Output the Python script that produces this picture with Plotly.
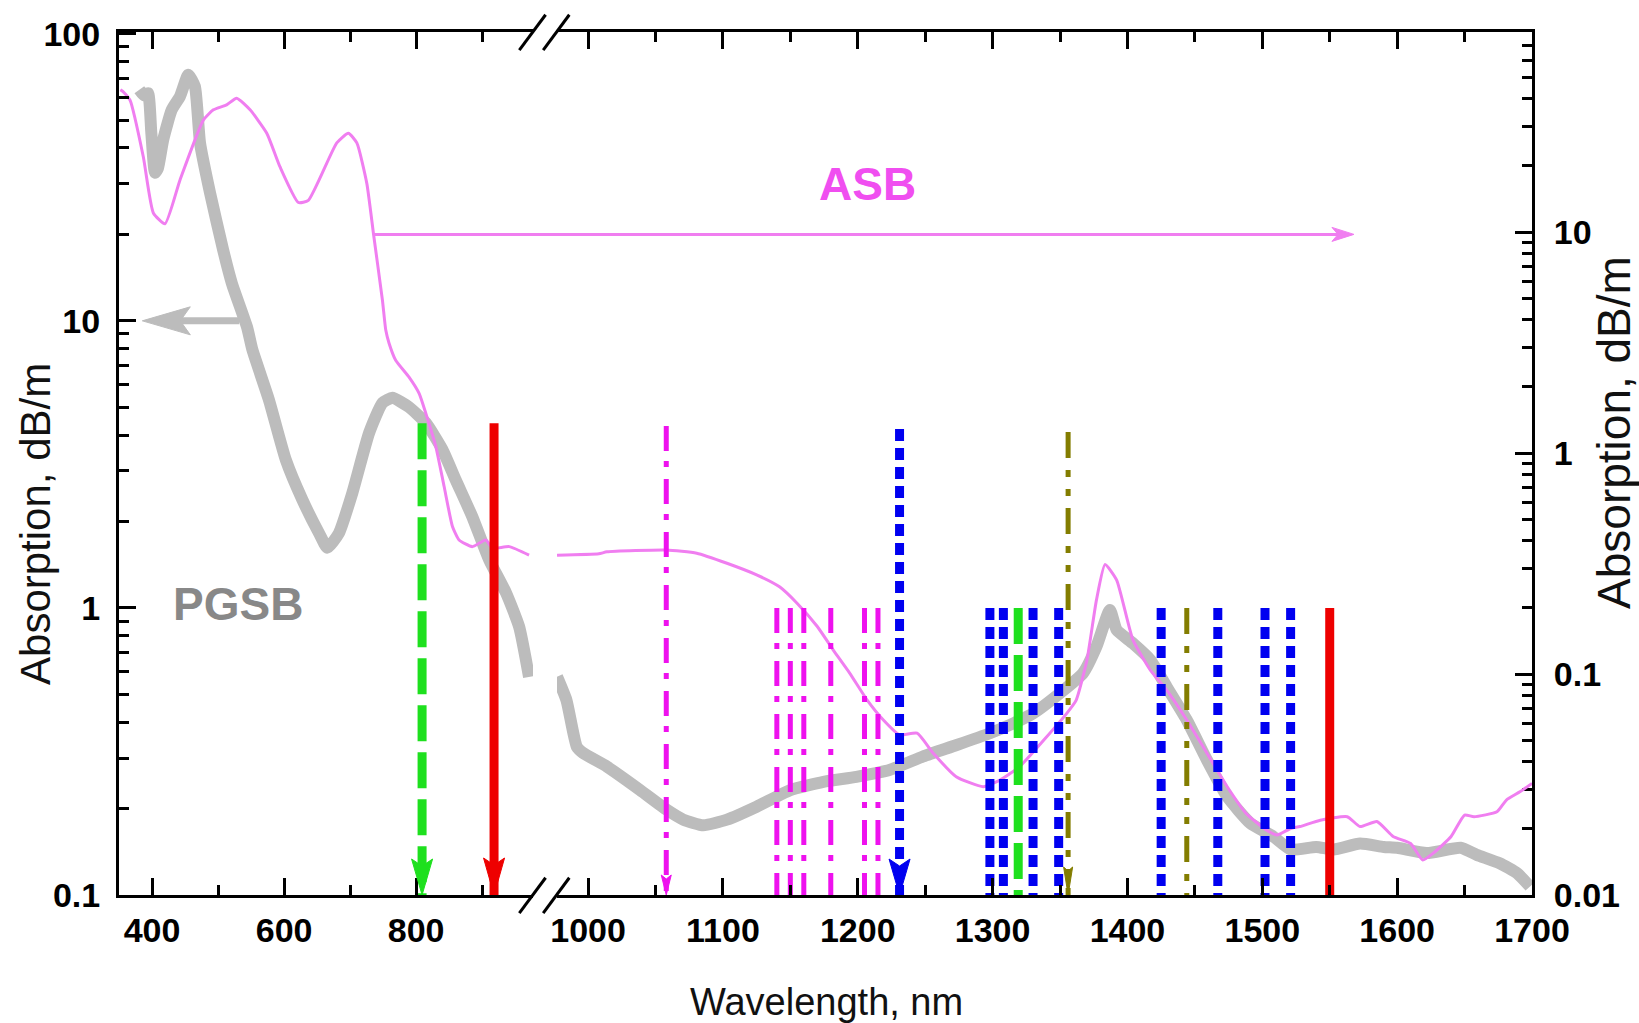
import plotly.graph_objects as go

FONT = "Liberation Sans, Arial, sans-serif"

# ---------------- data ----------------
# PGSB absorption (left axis, dB/m); x axis is broken near 977 nm
pgsb_nm_a = [380.8, 388, 394, 399, 404.5, 409, 417, 429.8, 442.4, 455, 465, 472.7, 487.9,
             507.6, 521, 544, 552, 577, 602.6, 627.7, 653, 665.6, 683, 703.5, 728.8, 749,
             764, 789, 814.7, 839.8, 860, 885, 910.6, 936, 956, 971]
pgsb_val_a = [63.8, 61, 62.1, 45, 32.8, 34, 42.8, 54.3, 60.5, 72, 65.5, 41.7, 27.9,
              17.7, 13.5, 9.5, 7.93, 5.31, 3.28, 2.38, 1.82, 1.62, 1.82, 2.52, 4.07, 5.18,
              5.39, 5.01, 4.41, 3.56, 2.79, 2.08, 1.47, 1.13, 0.86, 0.575]
pgsb_nm_b = [977, 984, 991.6, 996.5, 1014, 1038.6, 1058.4, 1070.7, 1085.5, 1103, 1125, 1150,
             1174.5, 1199, 1224, 1248.6, 1273.4, 1298, 1315.4, 1330, 1350, 1367, 1377, 1387,
             1392, 1404, 1417, 1429, 1444, 1459, 1474, 1491, 1508, 1521, 1540, 1553, 1572.5,
             1590, 1600, 1622, 1647, 1659, 1676, 1689, 1698.5]
pgsb_val_b = [0.576, 0.477, 0.329, 0.312, 0.280, 0.232, 0.198, 0.183, 0.175, 0.183, 0.203, 0.232,
              0.248, 0.258, 0.273, 0.304, 0.333, 0.366, 0.396, 0.429, 0.505, 0.592, 0.733, 0.984,
              0.838, 0.753, 0.659, 0.532, 0.407, 0.295, 0.220, 0.178, 0.160, 0.144, 0.147, 0.144, 0.151,
              0.147, 0.146, 0.140, 0.146, 0.138, 0.129, 0.119, 0.107]

# ASB absorption (right axis, dB/m)
asb_nm_a = [352, 356.5, 366.7, 386.8, 402, 419.7, 442.4, 477.7, 492.9, 513, 528.2, 548.5, 573.8,
            593.9, 621.7, 636.8, 679.8, 697.4, 710.2, 725.3, 735.3, 749, 754, 759, 769, 789,
            804.5, 814.7, 829.8, 842.4, 855, 865, 885, 905.6, 915.6, 941, 971]
asb_val_a = [44, 43.1, 39.5, 21.9, 12.2, 10.9, 17.2, 32.1, 35.7, 37.6, 40.3, 35.7, 28.0,
             19.7, 13.6, 13.9, 25.3, 28.0, 25.3, 16.6, 9.87, 4.9, 3.6, 3.14, 2.63, 2.21,
             1.86, 1.51, 1.07, 0.705, 0.465, 0.404, 0.377, 0.404, 0.371, 0.377, 0.345]
asb_nm_b = [977, 1008, 1014, 1058, 1080.6, 1103, 1125, 1142, 1155, 1170, 1182, 1194, 1207, 1219,
            1231, 1244, 1256, 1273, 1293, 1305.5, 1320, 1338, 1355, 1362, 1370, 1377, 1383.4,
            1392, 1404, 1417, 1429, 1444, 1459, 1474, 1488, 1503, 1511, 1521, 1528, 1543, 1563,
            1572.5, 1585, 1597, 1610, 1619, 1627, 1640, 1650, 1657, 1674, 1681, 1691, 1700]
asb_val_b = [0.345, 0.350, 0.357, 0.364, 0.352, 0.317, 0.281, 0.248, 0.209, 0.164, 0.128, 0.101,
             0.0762, 0.0619, 0.053, 0.054, 0.0438, 0.0343, 0.0309, 0.0331, 0.0381, 0.0503, 0.0664,
             0.0762, 0.116, 0.216, 0.313, 0.266, 0.143, 0.104, 0.0847, 0.0619, 0.0438, 0.0309,
             0.0234, 0.0197, 0.0187, 0.0200, 0.0204, 0.0218, 0.0226, 0.0204, 0.0215, 0.0184,
             0.0171, 0.0144, 0.0155, 0.0184, 0.0230, 0.0226, 0.0238, 0.0269, 0.0293, 0.0320]

# marker lines (wavelength, nm) drawn from 0.1 up to the given level (left axis)
magenta_lines_nm = [1140, 1150, 1160, 1180, 1205, 1215]
blue_lines_nm = [1298, 1308, 1330, 1349, 1425, 1467, 1502, 1521]
green_line_nm = [1319]
olive_line_nm = [1444]
red_line_nm = [1550]
line_top = 1.0

# arrows (wavelength, top level)
green_arrow = (809, 4.4)
red_arrow = (918, 4.4)
magenta_arrow = (1058, 4.3)
blue_arrow = (1231, 4.2)
olive_arrow = (1356, 4.1)

# axis ticks
x_left_ticks = [400, 600, 800]
x_left_minor = [500, 700, 900]
x_right_ticks = [1000, 1100, 1200, 1300, 1400, 1500, 1600, 1700]
x_right_minor = [1050, 1150, 1250, 1350, 1450, 1550, 1650]
y_left_ticks = [0.1, 1, 10, 100]
y_left_labels = ["0.1", "1", "10", "100"]
y_right_ticks = [0.01, 0.1, 1, 10]
y_right_labels = ["0.01", "0.1", "1", "10"]
y_left_minor = [m * d for d in (0.1, 1, 10) for m in range(2, 10)]
y_right_minor = [m * d for d in (0.01, 0.1, 1, 10) for m in range(2, 10)]

# colours
C_PGSB = "#bcbcbc"
C_ASB = "#f07ef0"
C_MAG = "#ee11ee"
C_BLUE = "#0000f0"
C_GREEN = "#1ee01e"
C_RED = "#ee0000"
C_OLIVE = "#837d00"

# ---------------- figure ----------------
fig = go.Figure()


def vl(xs, top):
    X, Y = [], []
    for x in xs:
        X += [x, x, None]
        Y += [top, 0.1, None]
    return X, Y


# curves
fig.add_trace(go.Scatter(x=pgsb_nm_a, y=pgsb_val_a, xaxis="x", yaxis="y", mode="lines",
                         line=dict(color=C_PGSB, width=12, shape="spline", smoothing=0.5)))
fig.add_trace(go.Scatter(x=pgsb_nm_b, y=pgsb_val_b, xaxis="x2", yaxis="y", mode="lines",
                         line=dict(color=C_PGSB, width=12, shape="spline", smoothing=0.5)))
fig.add_trace(go.Scatter(x=asb_nm_a, y=asb_val_a, xaxis="x", yaxis="y2", mode="lines",
                         line=dict(color=C_ASB, width=3, shape="spline", smoothing=0.5)))
fig.add_trace(go.Scatter(x=asb_nm_b, y=asb_val_b, xaxis="x2", yaxis="y2", mode="lines",
                         line=dict(color=C_ASB, width=3, shape="spline", smoothing=0.5)))

DASHDOT = "25px,10px,6px,12px"
DASHDOTDOT = "26px,12px,7px,12px,7px,12px"
DOTS = "12px,7px"
DASH = "36px,11px"

# vertical marker lines (on a hidden copy of the left axis, drawn on top)
for xs, top, col, w, dash, xa in [
    (magenta_lines_nm, line_top, C_MAG, 5, DASHDOT, "x2"),
    (blue_lines_nm, line_top, C_BLUE, 9, DOTS, "x2"),
    (green_line_nm, line_top, C_GREEN, 9, DASH, "x2"),
    (olive_line_nm, line_top, C_OLIVE, 5, DASHDOTDOT, "x2"),
    (red_line_nm, line_top, C_RED, 9, "solid", "x2"),
    ([green_arrow[0]], green_arrow[1], C_GREEN, 9, DASH, "x"),
    ([red_arrow[0]], red_arrow[1], C_RED, 9, "solid", "x"),
    ([magenta_arrow[0]], magenta_arrow[1], C_MAG, 5, DASHDOT, "x2"),
    ([blue_arrow[0]], blue_arrow[1], C_BLUE, 9, DOTS, "x2"),
    ([olive_arrow[0]], olive_arrow[1], C_OLIVE, 5, DASHDOTDOT, "x2"),
]:
    X, Y = vl(xs, top)
    fig.add_trace(go.Scatter(x=X, y=Y, xaxis=xa, yaxis="y3", mode="lines",
                             line=dict(color=col, width=w, dash=dash)))

shapes = []


def head_down(xref, x, color, w, L, notch):
    return dict(type="path", xref=xref, yref="paper", xsizemode="pixel", ysizemode="pixel",
                xanchor=x, yanchor=0,
                path=f"M0,0 L{-w/2},{L} L0,{L-notch} L{w/2},{L} Z",
                fillcolor=color, line=dict(color=color, width=1), layer="above")


shapes.append(head_down("x", green_arrow[0], C_GREEN, 21, 36, 7))
shapes.append(head_down("x", red_arrow[0], C_RED, 21, 37, 7))
shapes.append(head_down("x2", magenta_arrow[0], C_MAG, 10, 20, 4))
shapes.append(head_down("x2", blue_arrow[0], C_BLUE, 21, 36, 7))
shapes.append(head_down("x2", olive_arrow[0], C_OLIVE, 9, 28, 4))

# PGSB -> left axis arrow
pgsb_arrow_y = 10
shapes.append(dict(type="line", xref="x", yref="y", x0=405, x1=532, y0=pgsb_arrow_y, y1=pgsb_arrow_y,
                   line=dict(color=C_PGSB, width=7)))
shapes.append(dict(type="path", xref="x", yref="y", xsizemode="pixel", ysizemode="pixel",
                   xanchor=385.3, yanchor=pgsb_arrow_y, path="M0,0 L48,14 L38,0 L48,-14 Z",
                   fillcolor=C_PGSB, line=dict(color=C_PGSB, width=1)))
# ASB -> right axis arrow
asb_arrow_y = 20
shapes.append(dict(type="line", xref="paper", yref="y", x0=0.180, x1=0.864, y0=asb_arrow_y, y1=asb_arrow_y,
                   line=dict(color=C_ASB, width=3)))
shapes.append(dict(type="path", xref="paper", yref="y", xsizemode="pixel", ysizemode="pixel",
                   xanchor=0.874, yanchor=asb_arrow_y, path="M0,0 L-22,7 L-16,0 L-22,-7 Z",
                   fillcolor=C_ASB, line=dict(color=C_ASB, width=1)))

# axis-break marks
for xa, xb in [(0.2833, 0.3019), (0.3002, 0.3187)]:
    for ya, yb in [(-0.021, 0.020), (0.979, 1.020)]:
        shapes.append(dict(type="line", xref="paper", yref="paper", x0=xa, y0=ya, x1=xb, y1=yb,
                           line=dict(color="black", width=3)))

tickfont = dict(family=FONT, size=34, color="black", weight="bold")
common_x = dict(showline=True, linewidth=3, linecolor="black", mirror="ticks", ticks="inside",
                ticklen=17, tickwidth=3, tickcolor="black", showgrid=False, zeroline=False,
                tickfont=tickfont, ticklabelstandoff=3)
common_y = dict(type="log", showline=True, linewidth=3, linecolor="black", ticks="inside",
                ticklen=17, tickwidth=3, tickcolor="black", showgrid=False, zeroline=False,
                tickfont=tickfont)

fig.update_layout(
    width=1639, height=1023,
    margin=dict(l=119, r=107, t=32, b=128),
    paper_bgcolor="white", plot_bgcolor="white",
    showlegend=False,
    xaxis=dict(domain=[0, 0.2930], range=[350, 977], anchor="y", tickmode="array",
               tickvals=x_left_ticks,
               minor=dict(tickmode="array", tickvals=x_left_minor, ticks="inside", ticklen=10,
                          tickwidth=3, tickcolor="black", showgrid=False),
               **common_x),
    xaxis2=dict(domain=[0.3100, 1], range=[977, 1700], anchor="y", tickmode="array",
                tickvals=x_right_ticks,
                minor=dict(tickmode="array", tickvals=x_right_minor, ticks="inside", ticklen=10,
                           tickwidth=3, tickcolor="black", showgrid=False),
                **common_x),
    yaxis=dict(range=[-1, 2.006], anchor="x", side="left", tickmode="array",
               tickvals=y_left_ticks, ticktext=y_left_labels, ticklabelstandoff=9,
               minor=dict(tickmode="array", tickvals=y_left_minor, ticks="inside", ticklen=10,
                          tickwidth=3, tickcolor="black", showgrid=False),
               **common_y),
    yaxis2=dict(range=[-2, 1.905], anchor="x2", side="right", overlaying="y", tickmode="array",
                tickvals=y_right_ticks, ticktext=y_right_labels, ticklabelstandoff=12,
                minor=dict(tickmode="array", tickvals=y_right_minor, ticks="inside", ticklen=10,
                           tickwidth=3, tickcolor="black", showgrid=False),
                **common_y),
    yaxis3=dict(type="log", range=[-1, 2.006], anchor="x", overlaying="y", visible=False),
    shapes=shapes,
)

ann = []
ann.append(dict(text="Wavelength, nm", xref="paper", yref="paper", x=0.5004, y=-0.124,
                xanchor="center", yanchor="middle",
                showarrow=False, font=dict(family=FONT, size=38, color="#111111")))
ann.append(dict(text="Absorption, dB/m", xref="paper", yref="paper", x=-0.0587, y=0.430,
                xanchor="center", yanchor="middle",
                textangle=-90, showarrow=False, font=dict(family=FONT, size=42, color="#111111")))
ann.append(dict(text="Absorption, dB/m", xref="paper", yref="paper", x=1.058, y=0.5365,
                xanchor="center", yanchor="middle",
                textangle=-90, showarrow=False, font=dict(family=FONT, size=46, color="#111111")))
ann.append(dict(text="PGSB", xref="paper", yref="paper", x=0.0842, y=0.337, showarrow=False,
                xanchor="center", yanchor="middle",
                font=dict(family=FONT, size=46, color="#888888", weight="bold")))
ann.append(dict(text="ASB", xref="paper", yref="paper", x=0.530, y=0.824, showarrow=False,
                xanchor="center", yanchor="middle",
                font=dict(family=FONT, size=46, color="#f04ef0", weight="bold")))
fig.update_layout(annotations=ann)

fig.write_html("out.html", config={"displayModeBar": False},
               post_script="document.body.style.margin='0px';")
